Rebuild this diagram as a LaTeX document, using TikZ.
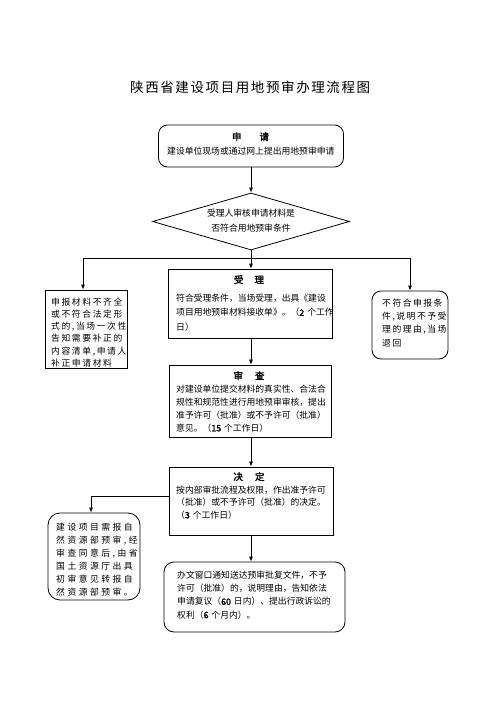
\documentclass[tikz,border=0pt]{standalone}
\usepackage{fontspec}
\newfontfamily\cjk{Noto Sans CJK SC}
\newfontfamily\cjkb[FakeBold=2]{Noto Sans CJK SC}
\usetikzlibrary{shapes.geometric,arrows.meta}
\newdimen\spk
\def\spc#1{\spci#1\relax}
\def\spci#1{\ifx\relax#1\else#1\kern\spk\expandafter\spci\fi}
\newcommand\mystack[2]{\vtop{\baselineskip=#1\relax #2}}
\newcommand\myline[1]{\hbox{#1}}
\tikzset{
  box/.style={draw, line width=0.8pt, inner sep=0pt},
  rbox/.style={box, rounded corners=9pt},
  body/.style={inner sep=0pt, font=\cjk\fontsize{8.8}{13}\selectfont},
  ttl/.style={inner sep=0pt, anchor=base, font=\cjkb\fontsize{9.5}{11}\selectfont},
  arr/.style={-{Latex[length=5pt,width=4pt]}, line width=0.8pt},
  conn/.style={line width=0.8pt}
}
\begin{document}
\begin{tikzpicture}[x=1pt,y=-1pt]
\fill[white] (0,0) rectangle (500,707);
\useasboundingbox (0,0) rectangle (500,707);
\coordinate (axis) at (251,0);
\coordinate (ldrop) at (83,0);

% title
\node[inner sep=0pt, anchor=base west, font=\cjk\fontsize{13.5}{15}\selectfont] (title) at (130,92)
  {\spk=1.6pt\spc{陕西省建设项目用地预审办理流程图}};

% apply
\node[rbox, minimum width=185pt, minimum height=42pt] (apply) at (251,146) {};
\node[ttl] (applyT) at (250.5,140.3) {申\hspace{18pt}请};
\node[body, anchor=base west] (applyB) at (167,154.3) {建设单位现场或通过网上提出用地预审申请};

% check diamond
\node[draw, diamond, inner sep=0pt, line width=0.8pt, minimum width=197pt, minimum height=57pt] (check) at (251,221.5) {};
\node[body, anchor=base] (checkA) at (251,216.3) {受理人审核申请材料是};
\node[body, anchor=base] (checkB) at (251,231.3) {否符合用地预审条件};
\coordinate (split) at (251,258);

% accept
\node[box, minimum width=164pt, minimum height=69pt] (accept) at (250,303.5) {};
\node[ttl] (acceptT) at (249,283.3) {受\hspace{11pt}理};
\node[body, anchor=base west] (acceptB) at (176,301.3) {\mystack{14.5pt}{%
  \myline{符合受理条件，当场受理，出具《建设}%
  \myline{项目用地预审材料接收单》。（{\cjkb 2}\hspace{3pt}个工作}%
  \myline{日）}}};

% incomplete
\node[box, minimum width=82pt, minimum height=78pt] (incomplete) at (86,329) {};
\node[body, anchor=base west] (incompleteB) at (51,305.3) {\spk=1.6pt\mystack{12.2pt}{%
  \myline{\spc{申报材料不齐全}}%
  \myline{\spc{或不符合法定形}}%
  \myline{\spc{式的,当场一次性}}%
  \myline{\spc{告知需要补正的}}%
  \myline{\spc{内容清单,申请人}}%
  \myline{\spc{补正申请材料}}}};

% reject
\node[rbox, minimum width=76pt, minimum height=68pt] (reject) at (410,325) {};
\node[body, anchor=base west] (rejectB) at (382,306.3) {\spk=1.5pt\mystack{13.3pt}{%
  \myline{\spc{不符合申报条}}%
  \myline{\spc{件,说明不予受}}%
  \myline{\spc{理的理由,当场}}%
  \myline{\spc{退回}}}};

% review
\node[box, minimum width=162pt, minimum height=72pt] (review) at (250,401) {};
\node[ttl] (reviewT) at (249,379.3) {审\hspace{12pt}查};
\node[body, anchor=base west] (reviewB) at (176,392.3) {\mystack{13pt}{%
  \myline{对建设单位提交材料的真实性、合法合}%
  \myline{规性和规范性进行用地预审审核，提出}%
  \myline{准予许可（批准）或不予许可（批准）}%
  \myline{意见。（{\cjkb 15}\hspace{3pt}个工作日）}}};

% decide
\node[box, minimum width=164pt, minimum height=68pt] (decide) at (251,501) {};
\node[ttl] (decideT) at (249,480.3) {决\hspace{12pt}定};
\node[body, anchor=base west] (decideB) at (176,493.3) {\mystack{12.5pt}{%
  \myline{按内部审批流程及权限，作出准予许可}%
  \myline{（批准）或不予许可（批准）的决定。}%
  \myline{（{\cjkb 3}\hspace{3pt}个工作日）}}};
\coordinate (dl) at (91,496);

% ministry
\node[box, rounded corners=12pt, minimum width=92pt, minimum height=87pt] (ministry) at (94,556.5) {};
\node[body, anchor=base west] (ministryB) at (56,530.3) {\spk=2.5pt\mystack{13pt}{%
  \myline{\spc{建设项目需报自}}%
  \myline{\spc{然资源部预审,经}}%
  \myline{\spc{审查同意后,由省}}%
  \myline{\spc{国土资源厅出具}}%
  \myline{\spc{初审意见转报自}}%
  \myline{\spc{然资源部预审。}}}};

% notify
\node[box, rounded corners=10pt, minimum width=181pt, minimum height=70pt] (notify) at (254.5,597) {};
\node[body, anchor=base west] (notifyB) at (177,578.3) {\mystack{13.3pt}{%
  \myline{办文窗口通知送达预审批复文件，不予}%
  \myline{许可（批准）的，说明理由，告知依法}%
  \myline{申请复议（{\cjkb 60}\hspace{3pt}日内）、提出行政诉讼的}%
  \myline{权利（{\cjkb 6}\hspace{3pt}个月内）。}}};

% connectors
\draw[arr] (apply.south -| axis) -- (check.north);
\draw[arr] (check.south) -- (accept.north -| axis);
\draw[arr] (split) -| (incomplete.north -| ldrop);
\draw[arr] (split) -| (reject.north);
\draw[arr] (accept.south -| axis) -- (review.north -| axis);
\draw[arr] (review.south -| axis) -- (decide.north -| axis);
\draw[arr] (decide.west |- dl) -| (ministry.north -| dl);
\draw[arr] (decide.south -| axis) -- (notify.north -| axis);
\end{tikzpicture}
\end{document}
